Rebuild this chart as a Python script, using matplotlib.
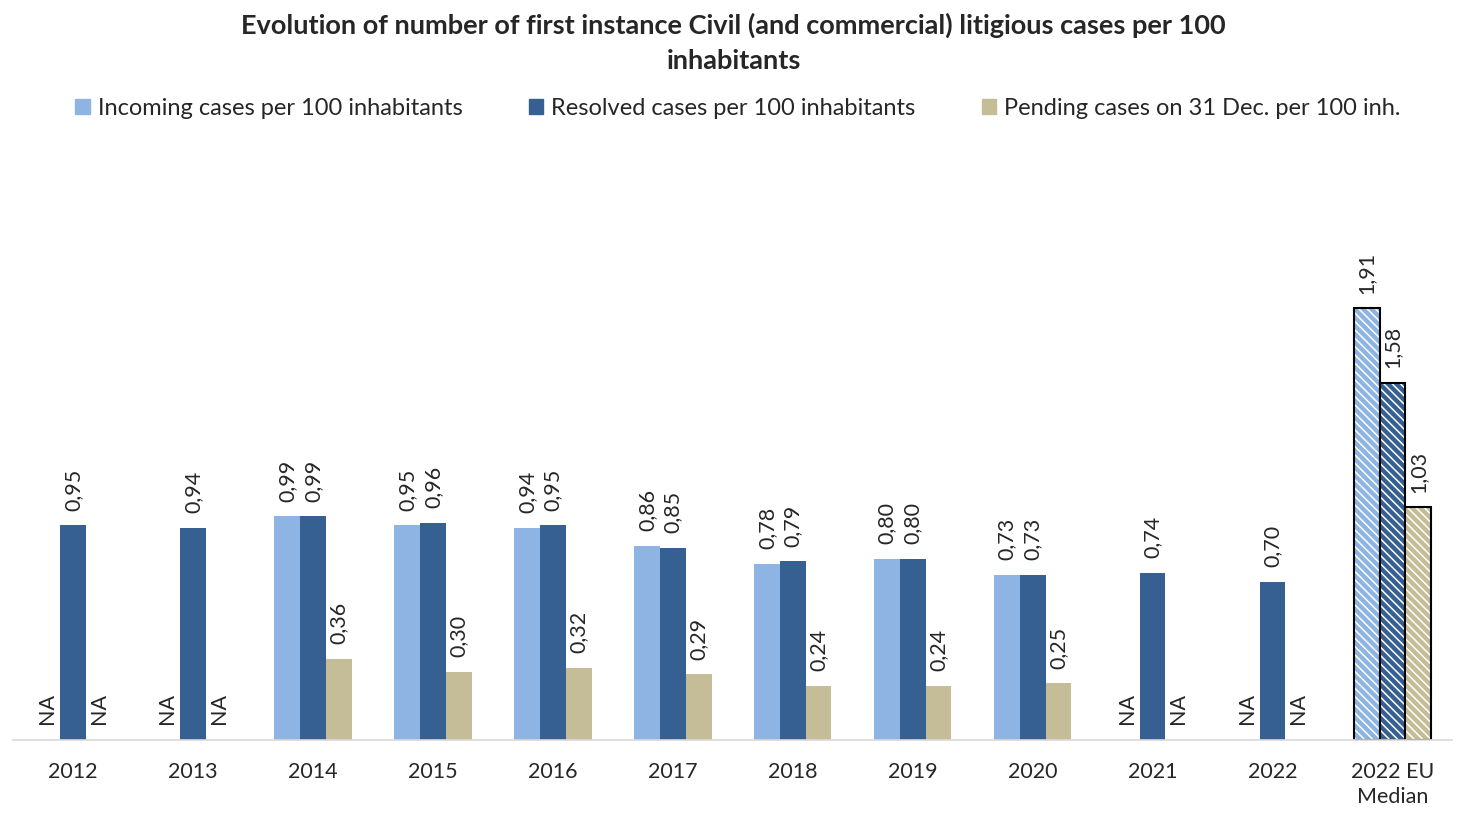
import numpy as np
import matplotlib.pyplot as plt

plt.rcParams['font.family'] = ['Lato', 'DejaVu Sans']

years = ['2012', '2013', '2014', '2015', '2016', '2017', '2018', '2019',
         '2020', '2021', '2022', '2022 EU\nMedian']
incoming = [None, None, 0.99, 0.95, 0.94, 0.86, 0.78, 0.80, 0.73, None, None, 1.91]
resolved = [0.95, 0.94, 0.99, 0.96, 0.95, 0.85, 0.79, 0.80, 0.73, 0.74, 0.70, 1.58]
pending = [None, None, 0.36, 0.30, 0.32, 0.29, 0.24, 0.24, 0.25, None, None, 1.03]

series = [
    ('Incoming cases per 100 inhabitants', incoming, '#8DB4E2'),
    ('Resolved cases per 100 inhabitants', resolved, '#366092'),
    ('Pending cases on 31 Dec. per 100 inh.', pending, '#C4BD97'),
]

fig = plt.figure(figsize=(14.76, 8.13), dpi=100)
ax = fig.add_axes([0.009, 0.0898, 0.975, 0.695])

x = np.arange(len(years))
w = 0.215
median_idx = len(years) - 1
plt.rcParams['hatch.linewidth'] = 1.1

for k, (name, vals, color) in enumerate(series):
    off = (k - 1) * w
    for i, v in enumerate(vals):
        xi = x[i] + off
        if v is None:
            ax.text(xi, 0.07, 'NA', rotation=90, ha='center', va='bottom',
                    fontsize=15.5, color='#262626')
            continue
        if i == median_idx:
            # median bars: white stripes over the fill, black outline
            ax.bar(xi, v, w, color=color, edgecolor='white', hatch='\\\\\\\\',
                   linewidth=0)
            ax.bar(xi, v, w, fill=False, edgecolor='black', linewidth=1.5)
        else:
            ax.bar(xi, v, w, color=color, linewidth=0)
        ax.text(xi, v + 0.065, f'{v:.2f}'.replace('.', ','), rotation=90,
                ha='center', va='bottom', fontsize=15.5, color='#262626')

# legend proxies
handles = [plt.Rectangle((0, 0), 1, 1, color=c) for _, _, c in series]
fig.legend(handles, [s[0] for s in series], loc='center', ncol=3,
           bbox_to_anchor=(0.5, 0.867), frameon=False, fontsize=17,
           handlelength=0.6, handleheight=0.6, columnspacing=2.8,
           handletextpad=0.35, labelcolor='#262626')

fig.text(0.497, 0.947,
         'Evolution of number of first instance Civil (and commercial) litigious cases per 100\ninhabitants',
         ha='center', va='center', fontsize=19.5, fontweight='bold',
         color='#262626', linespacing=1.55)

ax.set_xlim(-0.5, len(years) - 0.5)
ax.set_ylim(0, 2.5)
ax.set_xticks(x)
ax.set_xticklabels(years, fontsize=15.5, color='#262626', linespacing=1.3)
ax.tick_params(axis='x', length=0, pad=16)
ax.set_yticks([])
for s in ['top', 'right', 'left']:
    ax.spines[s].set_visible(False)
ax.spines['bottom'].set_color('#D9D9D9')
ax.spines['bottom'].set_linewidth(1.2)

fig.savefig('out.png', dpi=100)
